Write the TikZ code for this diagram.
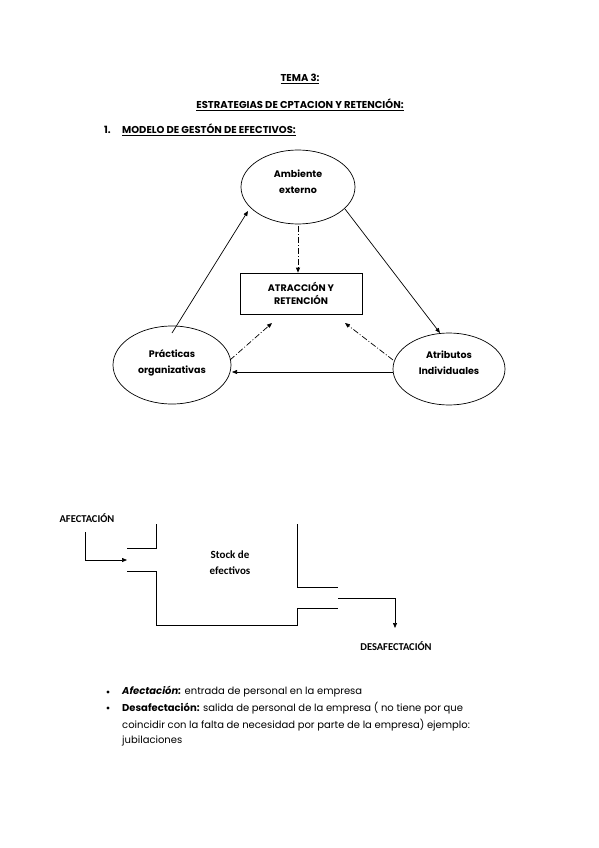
\documentclass[tikz,border=0pt]{standalone}
\usepackage{fontspec}
\setmainfont{Poppins}
\newfontfamily\calib{Carlito}
\usetikzlibrary{arrows.meta,shapes.geometric}
\begin{document}
\begin{tikzpicture}[x=1pt,y=-1pt,
  lbl/.style={font=\fontsize{9.5}{16}\selectfont\bfseries, align=center, inner sep=0pt},
  oval/.style={draw, ellipse, line width=0.7pt, minimum width=114pt, minimum height=74pt, inner sep=0pt},
  conn/.style={line width=0.7pt, -{Triangle[length=5pt,width=4pt]}},
  dconn/.style={line width=0.7pt, dash pattern=on 6pt off 2pt on 1pt off 2pt, -{Triangle[length=5pt,width=4pt]}},
  pipe/.style={line width=0.7pt},
  body/.style={font=\fontsize{10}{12}\selectfont, anchor=west, inner sep=0pt},
  head/.style={font=\fontsize{10}{12}\selectfont\bfseries, inner sep=0pt}
]
\useasboundingbox (0,0) rectangle (599,848);
\fill[white] (0,0) rectangle (599,848);

% headings
\node[head] (t1) at (300,79) {\underline{TEMA 3:}};
\node[head] (t2) at (300,105) {\underline{ESTRATEGIAS DE CPTACION Y RETENCIÓN:}};
\node[head, anchor=west] (n1) at (104,130) {1.};
\node[head, anchor=west] (t3) at (122,130) {\underline{MODELO DE GESTÓN DE EFECTIVOS:}};

% triangle model
\node[oval] (amb) at (298,187) {};
\node[lbl] (ambt) at (298,182) {Ambiente\\externo};
\node[draw, line width=0.7pt, minimum width=122pt, minimum height=41pt, inner sep=0pt] (box) at (301,293.5) {};
\node[lbl, font=\fontsize{9.5}{13}\selectfont\bfseries] (boxt) at (301,293) {ATRACCIÓN Y\\RETENCIÓN};
\node[oval, minimum width=118pt, minimum height=78pt] (pra) at (172,365) {};
\node[lbl] (prat) at (172,363) {Prácticas\\organizativas};
\node[oval, minimum width=112pt, minimum height=72pt] (atr) at (449,369) {};
\node[lbl] (atrt) at (449,363) {Atributos\\Individuales};

\coordinate (p1) at (172,333);
\coordinate (a1) at (248,211);
\coordinate (a2) at (345,209);
\coordinate (r1) at (440,333);
\coordinate (r2) at (393,372);
\coordinate (p2) at (232,372);
\draw[conn] (p1) -- (a1);
\draw[conn] (a2) -- (r1);
\draw[conn] (r2) -- (p2);

\coordinate (a3) at (298,226);
\coordinate (p3) at (230,360);
\coordinate (b2) at (272,323);
\coordinate (r3) at (393,360);
\coordinate (b3) at (345,323);
\draw[dconn] (a3) -- (box.north -| a3);
\draw[dconn] (p3) -- (b2);
\draw[dconn] (r3) -- (b3);

% stock diagram
\node[font=\calib\fontsize{10.5}{12}\selectfont\bfseries, inner sep=0pt] (afe) at (87,518) {AFECTACIÓN};
\node[font=\calib\fontsize{10.5}{12}\selectfont\bfseries, inner sep=0pt] (des) at (396,646) {DESAFECTACIÓN};
\node[font=\calib\fontsize{11}{16}\selectfont\bfseries, align=center, inner sep=0pt] (stk) at (230,563) {Stock de\\efectivos};

\coordinate (f1) at (85,532);
\coordinate (f2) at (85,560);
\coordinate (f3) at (127,560);
\draw[pipe, -{Triangle[length=5pt,width=4pt]}] (f1) -- (f2) -- (f3);

\coordinate (q1) at (156,524);
\coordinate (q2) at (156,548);
\coordinate (q3) at (127,548);
\draw[pipe] (q1) -- (q2) -- (q3);

\coordinate (s1) at (127,571);
\coordinate (s2) at (156,571);
\coordinate (s3) at (156,625);
\coordinate (s4) at (297,625);
\coordinate (s5) at (297,608);
\coordinate (s6) at (338,608);
\draw[pipe] (s1) -- (s2) -- (s3) -- (s4) -- (s5) -- (s6);

\coordinate (v1) at (297,524);
\coordinate (v2) at (297,587);
\coordinate (v3) at (338,587);
\draw[pipe] (v1) -- (v2) -- (v3);

\coordinate (o1) at (338,598);
\coordinate (o2) at (395,598);
\coordinate (o3) at (395,628);
\draw[pipe, -{Triangle[length=5pt,width=4pt]}] (o1) -- (o2) -- (o3);

% bullets
\fill (108,692) circle (1.6pt);
\fill (108,708) circle (1.6pt);
\node[body] (l1) at (122,692) {\textbf{\textit{Afectación:}} entrada de personal en la empresa};
\node[body] (l2) at (122,708) {\textbf{Desafectación:} salida de personal de la empresa ( no tiene por que};
\node[body] (l3) at (122,725) {coincidir con la falta de necesidad por parte de la empresa) ejemplo:};
\node[body] (l4) at (122,741) {jubilaciones};
\end{tikzpicture}
\end{document}
